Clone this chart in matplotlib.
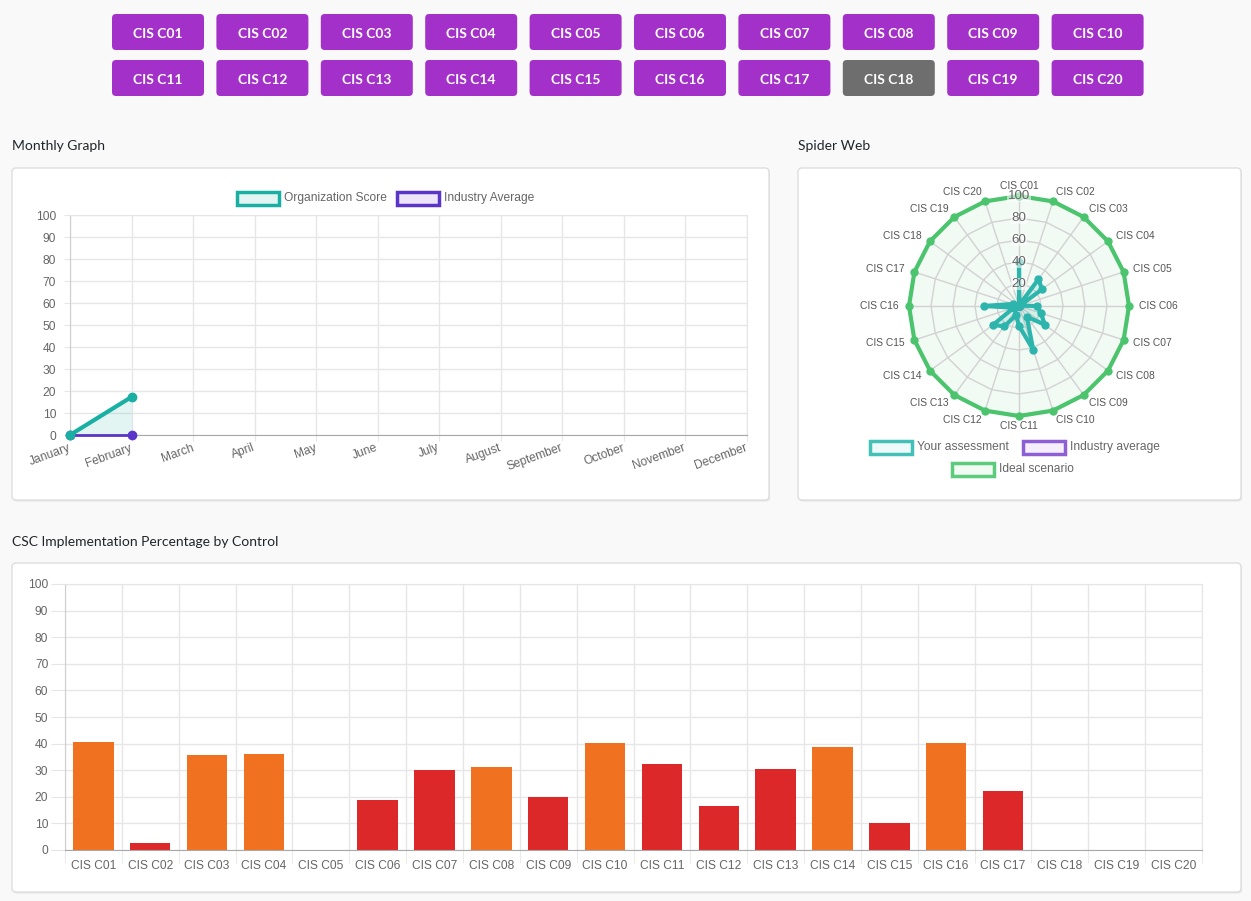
import matplotlib.pyplot as plt
import numpy as np
from matplotlib.patches import FancyBboxPatch, Rectangle

# data
controls = ["CIS C%02d" % i for i in range(1, 21)]
months = ["January", "February", "March", "April", "May", "June", "July",
          "August", "September", "October", "November", "December"]
org_score = [0, 17.3]
industry_month = [0, 0]

radar_assessment = [40, 1, 30, 26, 1, 16, 21, 29, 12, 42, 18, 9, 23, 29, 5, 32, 6, 0, 0, 0]
radar_industry = [0] * 20
radar_ideal = [100] * 20

impl_pct = [40.6, 2.5, 35.7, 36.1, 0, 18.8, 30.0, 31.2, 20.0, 40.1,
            32.2, 16.7, 30.6, 38.8, 10.0, 40.4, 22.3, 0, 0, 0]
impl_level = ["mid", "low", "mid", "mid", "low", "low", "low", "mid", "low", "mid",
              "low", "low", "low", "mid", "low", "mid", "low", "low", "low", "low"]
selected = "CIS C18"

# styles
W, H = 1251, 901
TXT = "#666666"
GRID = "#e6e6e6"
TEAL = "#1aafa3"
PURPLE = "#5b35c7"
R_TEAL = "#2db5ad"
R_PURPLE = "#8e5fd4"
GREEN = "#4cc46e"
level_colors = {"mid": "#f0711f", "low": "#dc2828"}

plt.rcParams["font.family"] = ["Liberation Sans", "DejaVu Sans"]
FS = 8.64  # 12px

fig = plt.figure(figsize=(W / 100, H / 100), dpi=100, facecolor="#f9f9f9")

bg = fig.add_axes([0, 0, 1, 1])
bg.set_xlim(0, W)
bg.set_ylim(H, 0)
bg.axis("off")


def px_axes(x0, y0, x1, y1, **kw):
    return fig.add_axes([x0 / W, 1 - y1 / H, (x1 - x0) / W, (y1 - y0) / H], **kw)


def card(x0, y0, x1, y1):
    bg.add_patch(FancyBboxPatch((x0 + 1, y0 + 1.5), x1 - x0, y1 - y0,
                                boxstyle="round,pad=0,rounding_size=4",
                                fc="#e4e4e4", ec="none"))
    bg.add_patch(FancyBboxPatch((x0, y0), x1 - x0, y1 - y0,
                                boxstyle="round,pad=0,rounding_size=4",
                                fc="white", ec="#dedede", lw=1))


# buttons
for i, name in enumerate(controls):
    row, col = divmod(i, 10)
    bx = 112 + col * 104.4
    by = 14 + row * 46
    fc = "#6e6e6e" if name == selected else "#a331c9"
    bg.add_patch(FancyBboxPatch((bx, by), 92, 36, boxstyle="round,pad=0,rounding_size=4",
                                fc=fc, ec="none"))
    bg.text(bx + 46, by + 19.5, name, ha="center", va="center", color="white",
            fontsize=10, fontweight="bold", family="Lato")

# section titles
for x, y, t in [(12, 146.5, "Monthly Graph"), (798, 146.5, "Spider Web"),
                (12, 541.5, "CSC Implementation Percentage by Control")]:
    bg.text(x, y, t, ha="left", va="center", fontsize=10, family="Lato", color="#212529")

card(12, 168, 769, 500)
card(798, 168, 1241, 500)
card(12, 563, 1241, 892)


def legend_item(x, y, label, ec, fc):
    bg.add_patch(Rectangle((x, y - 6.5), 42, 13, fc=fc, ec=ec, lw=2.5))
    bg.text(x + 47, y, label, ha="left", va="center", fontsize=FS, color=TXT)


# monthly graph
legend_item(237, 198, "Organization Score", TEAL, "#e2f5f3")
legend_item(397, 198, "Industry Average", PURPLE, "#ede6fa")

ax = px_axes(70, 215, 747, 435)
x = np.arange(len(org_score))
ax.fill_between(x, 0, org_score, color=TEAL, alpha=0.12, lw=0)
ax.plot(x, industry_month, color=PURPLE, lw=2, marker="o", ms=6, clip_on=False, zorder=3)
ax.plot(x, org_score, color=TEAL, lw=3, marker="o", ms=6, clip_on=False, zorder=4)
ax.set_xlim(0, 11)
ax.set_ylim(0, 100)
ax.set_yticks(range(0, 101, 10))
ax.set_xticks(range(12))
ax.set_xticklabels(months, rotation=20, ha="right", va="center", rotation_mode="anchor")
ax.grid(color=GRID, lw=1)
ax.set_axisbelow(True)
ax.tick_params(colors=GRID, labelcolor=TXT, labelsize=FS, length=4)
ax.tick_params(axis="x", pad=5)
ax.tick_params(axis="y", pad=6)
for s in ["top", "right"]:
    ax.spines[s].set_color(GRID)
ax.spines["left"].set_color("#cfcfcf")
ax.spines["bottom"].set_color("#a8a8a8")

# spider web
rax = px_axes(909, 196, 1129, 416, projection="polar")
rax.set_theta_zero_location("N")
rax.set_theta_direction(-1)
rax.set_ylim(0, 100)
rax.grid(False)
rax.set_xticks([])
rax.set_yticks([])
rax.spines["polar"].set_visible(False)
rax.patch.set_alpha(0)

theta = np.linspace(0, 2 * np.pi, len(controls), endpoint=False)
tc = np.append(theta, theta[0])


def closed(v):
    return np.append(v, v[0])


for r in [20, 40, 60, 80]:
    rax.plot(tc, [r] * len(tc), color="#d2d2d2", lw=1, zorder=1)
for th in theta:
    rax.plot([th, th], [0, 100], color="#d2d2d2", lw=1, zorder=1)

rax.fill(tc, closed(radar_ideal), color=GREEN, alpha=0.07, zorder=0)
rax.plot(tc, closed(radar_ideal), color=GREEN, lw=3, marker="o", ms=5, clip_on=False, zorder=3)
rax.plot(tc, closed(radar_industry), color=R_PURPLE, lw=3, marker="o", ms=5, zorder=3)
rax.fill(tc, closed(radar_assessment), color=R_TEAL, alpha=0.15, zorder=2)
rax.plot(tc, closed(radar_assessment), color=R_TEAL, lw=3, marker="o", ms=5, zorder=4)

for v in range(20, 101, 20):
    rax.text(0, v, str(v), ha="center", va="center", fontsize=9.6, color=TXT, zorder=5,
             bbox=dict(fc="white", ec="none", alpha=0.55, pad=0.3))

for th, lbl in zip(theta, controls):
    s = np.sin(th)
    ha = "left" if s > 0.05 else ("right" if s < -0.05 else "center")
    rax.text(th, 109, lbl, ha=ha, va="center", fontsize=7.4, color="#555555")

legend_item(870, 447, "Your assessment", "#45c0b8", "#eefaf9")
legend_item(1023, 447, "Industry average", R_PURPLE, "#f4effb")
legend_item(952, 469, "Ideal scenario", "#5ccb7c", "#f1faf3")

# implementation bars
bax = px_axes(65, 584, 1202, 850)
pos = np.arange(len(controls))
bax.bar(pos, impl_pct, width=0.71, color=[level_colors[l] for l in impl_level], zorder=2)
bax.set_xlim(-0.5, len(controls) - 0.5)
bax.set_ylim(0, 100)
bax.set_yticks(range(0, 101, 10))
bax.set_xticks(pos)
bax.set_xticklabels(controls)
bax.set_xticks(np.arange(-0.5, len(controls)), minor=True)
bax.grid(axis="y", color=GRID, lw=1)
bax.grid(axis="x", which="minor", color=GRID, lw=1)
bax.set_axisbelow(True)
bax.tick_params(axis="x", which="major", length=0, pad=7, labelsize=FS, labelcolor=TXT)
bax.tick_params(axis="x", which="minor", length=9, color=GRID)
bax.tick_params(axis="y", length=10, color=GRID, pad=2, labelsize=FS, labelcolor=TXT)
for s in ["top", "right"]:
    bax.spines[s].set_color(GRID)
bax.spines["left"].set_color("#cfcfcf")
bax.spines["bottom"].set_color("#a8a8a8")

fig.savefig("out.png", dpi=100, facecolor=fig.get_facecolor())
